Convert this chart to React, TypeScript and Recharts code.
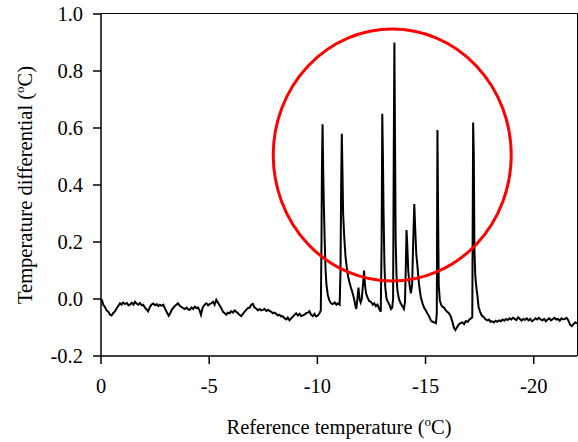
import { LineChart, Line, XAxis, YAxis, ReferenceDot } from 'recharts';

// Baseline before the freezing events (0 to about -10.2 °C)
const baselineTemps = [
  0, -0.05, -0.1, -0.18, -0.26, -0.34, -0.42, -0.49, -0.56, -0.65, -0.75, -0.88, -0.95, -1.02, -1.11, -1.2,
  -1.27, -1.34, -1.42, -1.5, -1.57, -1.64, -1.72, -1.8, -1.88, -1.95, -2.03, -2.1, -2.18, -2.25, -2.33, -2.41,
  -2.5, -2.58, -2.65, -2.72, -2.8, -2.88, -2.95, -3.03, -3.13, -3.2, -3.27, -3.33, -3.41, -3.48, -3.56, -3.64,
  -3.72, -3.8, -3.87, -3.95, -4.02, -4.1, -4.18, -4.26, -4.33, -4.41, -4.48, -4.56, -4.62, -4.7, -4.79, -4.87,
  -4.95, -5.02, -5.1, -5.18, -5.25, -5.33, -5.4, -5.48, -5.56, -5.64, -5.72, -5.79, -5.86, -5.94, -6.02, -6.1,
  -6.18, -6.25, -6.33, -6.4, -6.48, -6.56, -6.63, -6.71, -6.79, -6.87, -6.95, -7.02, -7.1, -7.18, -7.25, -7.33,
  -7.4, -7.48, -7.56, -7.64, -7.72, -7.79, -7.87, -7.95, -8.02, -8.1, -8.18, -8.25, -8.33, -8.4, -8.48, -8.56,
  -8.63, -8.71, -8.79, -8.87, -8.95, -9.02, -9.1, -9.18, -9.25, -9.32, -9.4, -9.48, -9.56, -9.63, -9.71, -9.79,
  -9.87, -9.94, -10.02, -10.1, -10.16,
];
const baselineDiffs = [
  0.0, -0.005, -0.02, -0.028, -0.04, -0.045, -0.055, -0.058, -0.05, -0.043, -0.03, -0.015, -0.02, -0.012, -0.018, -0.014,
  -0.022, -0.02, -0.013, -0.02, -0.01, -0.016, -0.02, -0.014, -0.022, -0.02, -0.03, -0.036, -0.043, -0.03, -0.02, -0.016,
  -0.022, -0.018, -0.025, -0.02, -0.024, -0.02, -0.032, -0.045, -0.059, -0.05, -0.038, -0.032, -0.025, -0.02, -0.015, -0.024,
  -0.028, -0.032, -0.035, -0.03, -0.036, -0.038, -0.03, -0.035, -0.027, -0.032, -0.03, -0.04, -0.055, -0.03, -0.02, -0.015,
  -0.022, -0.018, -0.015, -0.01, -0.02, -0.003, -0.012, -0.022, -0.032, -0.045, -0.05, -0.055, -0.048, -0.05, -0.043, -0.048,
  -0.04, -0.045, -0.05, -0.055, -0.06, -0.052, -0.045, -0.038, -0.032, -0.03, -0.02, -0.017, -0.03, -0.034, -0.04, -0.035,
  -0.04, -0.038, -0.035, -0.042, -0.038, -0.042, -0.045, -0.05, -0.048, -0.052, -0.058, -0.055, -0.062, -0.06, -0.068, -0.072,
  -0.065, -0.075, -0.068, -0.062, -0.055, -0.05, -0.058, -0.052, -0.06, -0.058, -0.055, -0.05, -0.048, -0.043, -0.055, -0.06,
  -0.052, -0.061, -0.058, -0.05, -0.04,
];

// Exotherm peaks (-10.2 to -17.7 °C)
const peakTemps = [
  -10.19, -10.21, -10.24, -10.27, -10.3, -10.34, -10.38, -10.42, -10.48, -10.55, -10.63, -10.71, -10.8, -10.88, -10.95, -11.03,
  -11.07, -11.1, -11.13, -11.16, -11.19, -11.24, -11.3, -11.36, -11.42, -11.48, -11.55, -11.63, -11.7, -11.76, -11.8, -11.85,
  -11.9, -11.95, -12.0, -12.05, -12.12, -12.16, -12.2, -12.25, -12.32, -12.4, -12.48, -12.56, -12.63, -12.7, -12.78, -12.86,
  -12.93, -12.97, -13.0, -13.03, -13.06, -13.1, -13.14, -13.2, -13.26, -13.33, -13.4, -13.46, -13.5, -13.53, -13.56, -13.59,
  -13.62, -13.66, -13.7, -13.77, -13.85, -13.93, -14.0, -14.05, -14.09, -14.12, -14.15, -14.2, -14.26, -14.32, -14.38, -14.43,
  -14.48, -14.52, -14.57, -14.62, -14.7, -14.78, -14.86, -14.93, -15.0, -15.08, -15.16, -15.24, -15.32, -15.4, -15.48, -15.52,
  -15.55, -15.58, -15.61, -15.66, -15.72, -15.78, -15.85, -15.92, -16.0, -16.08, -16.16, -16.24, -16.31, -16.38, -16.45, -16.53,
  -16.61, -16.7, -16.78, -16.86, -16.95, -17.03, -17.1, -17.16, -17.2, -17.23, -17.26, -17.3, -17.35, -17.4, -17.45, -17.52,
  -17.6, -17.68,
];
const peakDiffs = [
  0.2, 0.45, 0.613, 0.45, 0.33, 0.2, 0.1, 0.05, 0.015, -0.004, -0.015, -0.018, -0.012, -0.02, -0.015, -0.02,
  0.1, 0.4, 0.58, 0.45, 0.3, 0.22, 0.15, 0.11, 0.08, 0.06, 0.04, 0.02, 0.0, -0.025, -0.035, 0.0,
  0.04, 0.0, -0.012, 0.0, 0.06, 0.1, 0.05, 0.02, 0.005, -0.008, -0.01, -0.02, -0.015, -0.025, -0.02, -0.035,
  -0.045, 0.2, 0.65, 0.5, 0.3, 0.12, 0.04, 0.0, -0.01, -0.02, -0.035, -0.03, 0.0, 0.5, 0.9, 0.55,
  0.2, 0.08, 0.03, 0.0, -0.015, -0.025, -0.035, -0.01, 0.12, 0.242, 0.2, 0.1, 0.05, 0.02, 0.05, 0.2,
  0.333, 0.25, 0.16, 0.12, 0.05, 0.007, -0.015, -0.03, -0.039, -0.05, -0.06, -0.074, -0.08, -0.082, -0.085, -0.05,
  0.593, 0.3, 0.05, -0.005, -0.02, -0.027, -0.03, -0.038, -0.045, -0.05, -0.06, -0.08, -0.1, -0.109, -0.1, -0.09,
  -0.085, -0.082, -0.088, -0.078, -0.08, -0.072, -0.068, -0.065, 0.619, 0.51, 0.17, 0.08, 0.04, 0.01, -0.027, -0.045,
  -0.058, -0.063,
];

// Tail after the last peak (-17.7 to -22 °C)
const tailTemps = [
  -17.76, -17.85, -17.93, -18.0, -18.08, -18.16, -18.24, -18.32, -18.4, -18.48, -18.56, -18.64, -18.72, -18.8, -18.88, -18.96,
  -19.04, -19.12, -19.2, -19.28, -19.36, -19.44, -19.52, -19.6, -19.68, -19.76, -19.84, -19.92, -20.0, -20.08, -20.16, -20.24,
  -20.32, -20.4, -20.48, -20.56, -20.64, -20.72, -20.8, -20.88, -20.96, -21.04, -21.12, -21.2, -21.28, -21.36, -21.44, -21.52,
  -21.6, -21.68, -21.76, -21.84, -21.92, -22.0,
];
const tailDiffs = [
  -0.07, -0.075, -0.072, -0.08, -0.078, -0.082, -0.076, -0.08, -0.075, -0.078, -0.072, -0.076, -0.07, -0.074, -0.068, -0.072,
  -0.066, -0.07, -0.074, -0.064, -0.07, -0.076, -0.07, -0.073, -0.068, -0.075, -0.07, -0.078, -0.074, -0.068, -0.072, -0.066,
  -0.072, -0.075, -0.07, -0.078, -0.072, -0.068, -0.075, -0.07, -0.066, -0.072, -0.07, -0.076, -0.068, -0.072, -0.07, -0.066,
  -0.075, -0.09, -0.095, -0.088, -0.082, -0.086,
];

const xTicks = [0, -5, -10, -15, -20];
const yTicks = [-0.2, 0, 0.2, 0.4, 0.6, 0.8, 1.0];

// Highlight ellipse around the peaks (data coordinates of its centre)
const circleCenter = { t: -13.46, d: 0.505 };

const allTemps = [...baselineTemps, ...peakTemps, ...tailTemps];
const allDiffs = [...baselineDiffs, ...peakDiffs, ...tailDiffs];
const data = allTemps.map((t, i) => ({ t, d: allDiffs[i] }));

const font = "'Liberation Serif', 'Times New Roman', serif";
const fontSize = 20.5;

// chart layout
const chartW = 578;
const chartH = 442;
const margin = { top: 14, right: 1, bottom: 36, left: 41 };
const yAxisW = 60;
const xAxisH = 50;
const plotLeft = margin.left + yAxisW;
const plotW = chartW - margin.left - margin.right - yAxisW;
const plotH = chartH - margin.top - margin.bottom - xAxisH;
const frameW = 1.5;

function XLabel({ viewBox }: any) {
  const cx = viewBox.x + viewBox.width / 2;
  return (
    <text x={cx} y={434} textAnchor="middle" fontFamily={font} fontSize={fontSize} fill="#000">
      Reference temperature (
      <tspan dy={-8} fontSize={13}>o</tspan>
      <tspan dy={8}>C)</tspan>
    </text>
  );
}

function YLabel({ viewBox }: any) {
  const cy = viewBox.y + viewBox.height / 2;
  return (
    <text
      x={0}
      y={0}
      transform={`translate(32, ${cy}) rotate(-90)`}
      textAnchor="middle"
      fontFamily={font}
      fontSize={fontSize}
      fill="#000"
    >
      Temperature differential (
      <tspan dy={-8} fontSize={13}>o</tspan>
      <tspan dy={8}>C)</tspan>
    </text>
  );
}

export default function App() {
  return (
    <div style={{ position: 'absolute', left: 0, top: 0, width: chartW, height: chartH, background: '#fff' }}>
      <LineChart width={chartW} height={chartH} data={data} margin={margin}>
        <XAxis
          dataKey="t"
          type="number"
          domain={[-22, 0]}
          reversed
          ticks={xTicks}
          tickSize={8}
          tickMargin={14}
          height={xAxisH}
          stroke="#000"
          strokeWidth={1.5}
          tick={{ fill: '#000', fontSize, fontFamily: font }}
          label={<XLabel />}
        />
        <YAxis
          type="number"
          domain={[-0.2, 1.0]}
          ticks={yTicks}
          tickFormatter={(v: number) => v.toFixed(1)}
          tickSize={8}
          tickMargin={10}
          width={yAxisW}
          stroke="#000"
          strokeWidth={1.5}
          tick={{ fill: '#000', fontSize, fontFamily: font }}
          label={<YLabel />}
        />
        <Line
          type="linear"
          dataKey="d"
          stroke="#000"
          strokeWidth={2}
          dot={false}
          isAnimationActive={false}
        />
        <ReferenceDot
          x={circleCenter.t}
          y={circleCenter.d}
          ifOverflow="visible"
          shape={(p: any) => (
            <ellipse cx={p.cx} cy={p.cy} rx={119} ry={126} fill="none" stroke="#ff0000" strokeWidth={3} />
          )}
        />
      </LineChart>
      {/* top and right frame lines of the plot box */}
      <div
        style={{
          position: 'absolute',
          left: plotLeft,
          top: margin.top - frameW / 2,
          width: plotW + frameW / 2,
          height: plotH + frameW / 2,
          boxSizing: 'border-box',
          borderTop: `${frameW}px solid #000`,
          borderRight: `${frameW}px solid #000`,
          pointerEvents: 'none',
        }}
      />
    </div>
  );
}
